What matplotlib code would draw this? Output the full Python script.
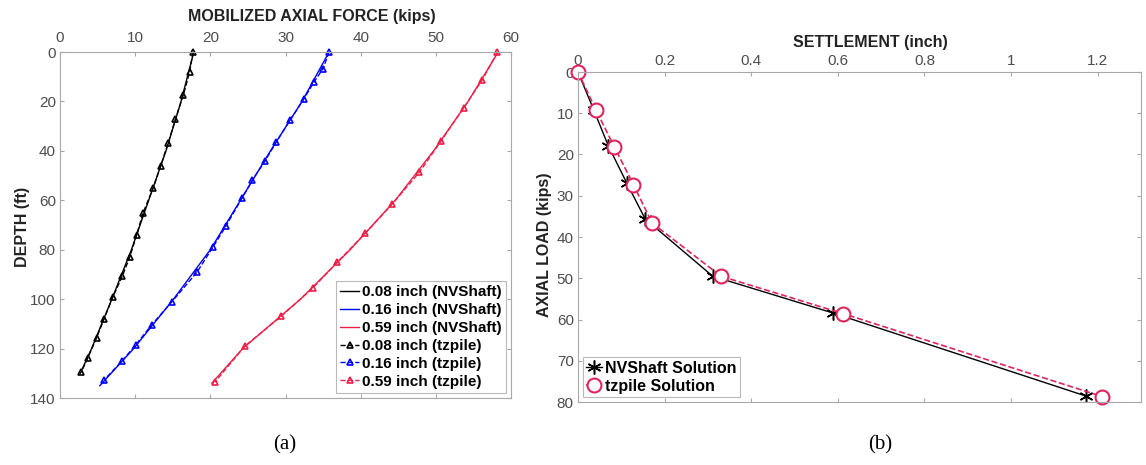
import numpy as np
import matplotlib
matplotlib.use('Agg')
import matplotlib.pyplot as plt

plt.rcParams['font.family'] = ['Liberation Sans', 'DejaVu Sans']

#------------------------------------------------------------------------------
# DATA: (a) mobilized axial force vs depth
#------------------------------------------------------------------------------
# NVShaft solution (solid lines)
nv_depth_008 = [0, 20, 40, 60, 80, 100, 120, 130]
nv_force_008 = [17.8, 16.1, 14.1, 11.8, 9.5, 6.9, 4.2, 2.7]
nv_depth_016 = [0, 20, 40, 60, 80, 100, 120, 135]
nv_force_016 = [35.8, 32.2, 28.0, 24.0, 20.0, 15.1, 9.8, 5.3]
nv_depth_059 = [0, 20, 40, 60, 80, 100, 120, 134]
nv_force_059 = [58.3, 54.3, 49.7, 44.6, 38.6, 32.0, 24.3, 20.2]

# tzpile solution (dashed with triangles)
tz_depth_008 = [0, 8, 17.5, 27.3, 36.7, 46, 55, 65, 74, 82.8, 90.6, 99.3, 108, 115.7, 124, 129.6]
tz_force_008 = [17.7, 17.25, 16.4, 15.35, 14.4, 13.4, 12.4, 11.06, 10.2, 9.3, 8.3, 7.0, 5.86, 4.86, 3.67, 2.8]
tz_depth_016 = [0, 6.7, 12.1, 19.2, 27.6, 36.3, 44, 51.8, 59.2, 70.3, 78.7, 89.2, 101, 110.4, 118.4, 125.2, 132.6]
tz_force_016 = [35.8, 35.0, 33.8, 32.4, 30.6, 28.8, 27.3, 25.6, 24.2, 22.1, 20.4, 18.2, 14.9, 12.2, 10.1, 8.2, 5.9]
tz_depth_059 = [0, 11.2, 22.6, 36, 48.7, 61.5, 73.4, 85, 95.6, 107, 119, 133.6]
tz_force_059 = [58.2, 56.2, 53.7, 50.7, 47.8, 44.2, 40.6, 36.9, 33.6, 29.4, 24.6, 20.6]

#------------------------------------------------------------------------------
# DATA: (b) settlement vs axial load
#------------------------------------------------------------------------------
nv_settle = [0, 0.036, 0.070, 0.113, 0.155, 0.311, 0.588, 1.174]
nv_load = [0, 9.1, 17.9, 27.0, 35.6, 49.5, 58.4, 78.6]
tz_settle = [0, 0.041, 0.084, 0.128, 0.171, 0.330, 0.613, 1.211]
tz_load = [0, 9.1, 18.2, 27.3, 36.6, 49.5, 58.6, 78.7]

#------------------------------------------------------------------------------
# SETTINGS
#------------------------------------------------------------------------------
W, H = 1146, 465
tickcolor = '#4d4d4d'
framecolor = '#a8a8a8'
red = '#ec1f48'
pink = '#e0245e'
asterisk = (6, 2, 0)   # MATLAB-style '*' marker

def style_axes(ax, pad):
    for s in ax.spines.values():
        s.set_color(framecolor)
        s.set_linewidth(0.8)
    ax.xaxis.set_ticks_position('both')
    ax.yaxis.set_ticks_position('both')
    ax.tick_params(direction='in', length=3, color=framecolor, labelsize=11,
                   labelcolor=tickcolor, labeltop=True, labelbottom=False)
    ax.tick_params(axis='x', pad=pad)
    ax.tick_params(axis='y', pad=3)

fig = plt.figure(figsize=(W/100, H/100), dpi=100)

#------------------------------------------------------------------------------
# PLOT (a)
#------------------------------------------------------------------------------
ax1 = fig.add_axes([60/W, 1-398/H, 451/W, 346/H])
ax1.plot(nv_force_008, nv_depth_008, '-', color='black', lw=1, label='0.08 inch (NVShaft)')
ax1.plot(nv_force_016, nv_depth_016, '-', color='blue', lw=1, label='0.16 inch (NVShaft)')
ax1.plot(nv_force_059, nv_depth_059, '-', color=red, lw=1, label='0.59 inch (NVShaft)')
ax1.plot(tz_force_008, tz_depth_008, '--^', color='black', lw=1, ms=5, mfc='none', mew=1.2,
         clip_on=False, label='0.08 inch (tzpile)')
ax1.plot(tz_force_016, tz_depth_016, '--^', color='blue', lw=1, ms=5, mfc='none', mew=1.2,
         clip_on=False, label='0.16 inch (tzpile)')
ax1.plot(tz_force_059, tz_depth_059, '--^', color=red, lw=1, ms=5, mfc='none', mew=1.2,
         clip_on=False, label='0.59 inch (tzpile)')
ax1.set_xlim(0, 60)
ax1.set_ylim(140, 0)
ax1.set_xticks(np.arange(0, 61, 10))
ax1.set_yticks(np.arange(0, 141, 20))
style_axes(ax1, 5)
leg1 = ax1.legend(loc='lower right', bbox_to_anchor=(0.989, 0.014), borderaxespad=0,
                  fancybox=False, edgecolor=framecolor, handlelength=1.2, handletextpad=0.2,
                  labelspacing=0.25, borderpad=0.3, prop={'weight': 'bold', 'size': 11})
leg1.get_frame().set_linewidth(0.8)

fig.text(312/W, 1-17/H, 'MOBILIZED AXIAL FORCE (kips)', ha='center', va='center',
         fontsize=11.5, fontweight='bold', color='#222222')
fig.text(23/W, 1-227/H, 'DEPTH (ft)', ha='center', va='center', rotation=90,
         fontsize=11.5, fontweight='bold', color='#222222')

#------------------------------------------------------------------------------
# PLOT (b)
#------------------------------------------------------------------------------
ax2 = fig.add_axes([578/W, 1-402/H, 563/W, 330/H])
ax2.plot(nv_settle, nv_load, '-', marker=asterisk, color='black', lw=1, ms=10, mew=1.1,
         label='NVShaft Solution')
ax2.plot(tz_settle, tz_load, '--o', color=pink, lw=1.2, ms=10, mfc='white', mew=1.5,
         clip_on=False, label='tzpile Solution')
ax2.set_xlim(0, 1.3)
ax2.set_ylim(80, 0)
ax2.set_xticks([0, 0.2, 0.4, 0.6, 0.8, 1, 1.2])
ax2.set_xticklabels(['0', '0.2', '0.4', '0.6', '0.8', '1', '1.2'])
ax2.set_yticks(np.arange(0, 81, 10))
style_axes(ax2, 3)
leg2 = ax2.legend(loc='lower left', bbox_to_anchor=(0.009, 0.015), borderaxespad=0,
                  fancybox=False, edgecolor=framecolor, handlelength=1.0, handletextpad=0.2,
                  labelspacing=0.2, borderpad=0.2, prop={'weight': 'bold', 'size': 11.5})
leg2.get_frame().set_linewidth(0.8)

fig.text(870/W, 1-42/H, 'SETTLEMENT (inch)', ha='center', va='center',
         fontsize=11.5, fontweight='bold', color='#222222')
fig.text(545/W, 1-245/H, 'AXIAL LOAD (kips)', ha='center', va='center', rotation=90,
         fontsize=11.5, fontweight='bold', color='#222222')

#------------------------------------------------------------------------------
# PANEL LABELS
#------------------------------------------------------------------------------
fig.text(285/W, 1-445/H, '(a)', ha='center', va='center', fontsize=15,
         family=['Liberation Serif', 'DejaVu Serif'])
fig.text(880/W, 1-445/H, '(b)', ha='center', va='center', fontsize=15,
         family=['Liberation Serif', 'DejaVu Serif'])

plt.savefig('out.png', dpi=100)
plt.close(fig)
